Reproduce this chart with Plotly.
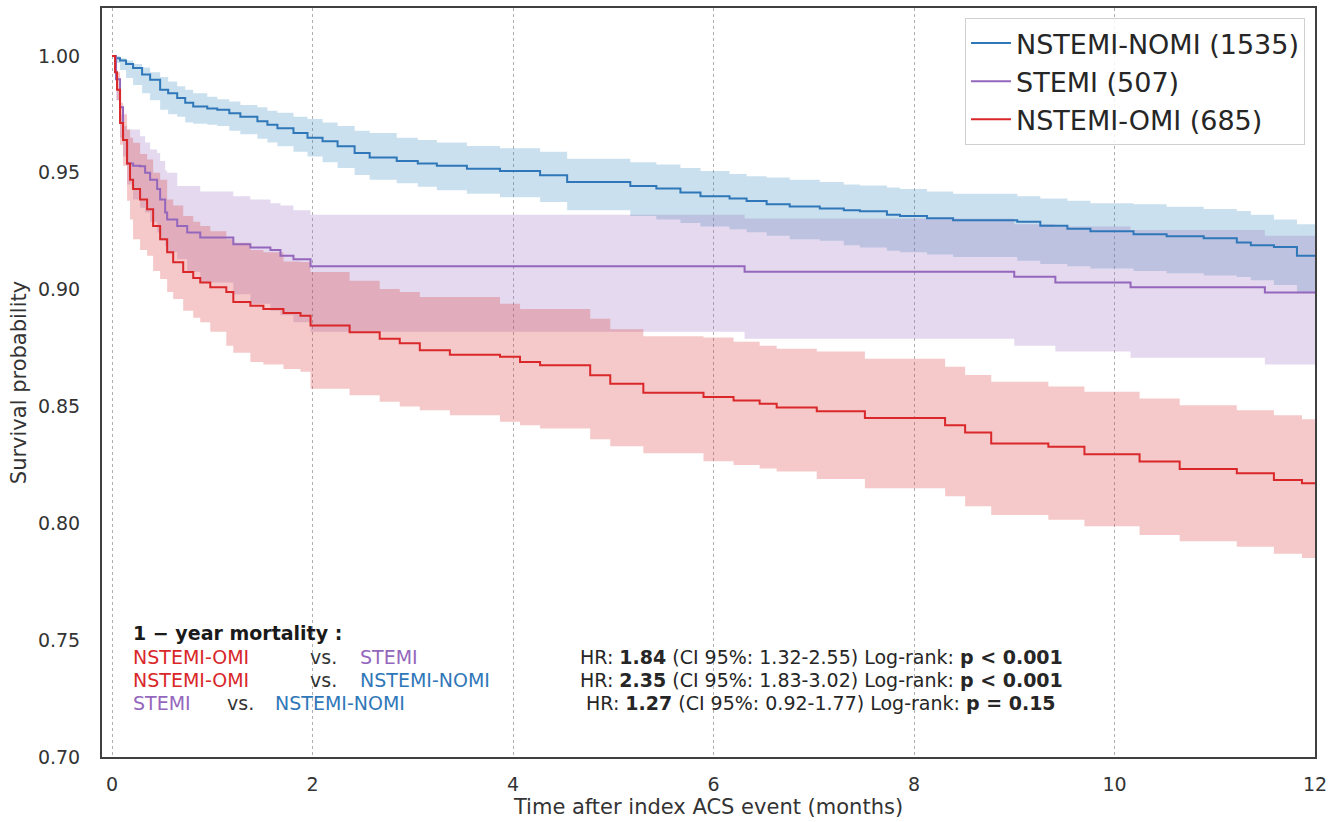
import plotly.graph_objects as go

# ---------------- data ----------------
# NSTEMI-NOMI (blue)
t_nomi = [0, 0.03, 0.08, 0.14, 0.21, 0.3, 0.38, 0.48, 0.56, 0.65, 0.73, 0.81, 0.95, 1.05, 1.17, 1.28,
          1.45, 1.55, 1.65, 1.81, 1.95, 2.1, 2.25, 2.42, 2.57, 2.84, 3.05, 3.24, 3.54, 3.87, 4.27, 4.54,
          5.17, 5.43, 5.67, 5.87, 6.16, 6.33, 6.53, 6.76, 7.06, 7.3, 7.46, 7.73, 7.86, 8.13, 8.39, 9.03,
          9.26, 9.53, 9.76, 10.19, 10.52, 10.89, 11.22, 11.36, 11.59, 11.82]
s_nomi = [1.0, 0.999, 0.998, 0.9965, 0.9948, 0.992, 0.9898, 0.9855, 0.984, 0.982, 0.980, 0.9784, 0.9775,
          0.977, 0.9755, 0.974, 0.972, 0.9705, 0.969, 0.967, 0.965, 0.9635, 0.9613, 0.9585, 0.9565, 0.955,
          0.954, 0.953, 0.9517, 0.9507, 0.9489, 0.946, 0.9443, 0.9433, 0.9416, 0.940, 0.939, 0.9379, 0.9365,
          0.9356, 0.9347, 0.934, 0.9335, 0.932, 0.9315, 0.9305, 0.9297, 0.929, 0.9273, 0.926, 0.925, 0.9237,
          0.9228, 0.922, 0.9202, 0.919, 0.9182, 0.9145]
hi_nomi = [1.0, 1.0, 0.999, 0.998, 0.9965, 0.995, 0.993, 0.991, 0.989, 0.987, 0.9855, 0.984, 0.9825, 0.9815,
           0.9805, 0.979, 0.978, 0.9765, 0.9757, 0.974, 0.973, 0.9715, 0.970, 0.968, 0.967, 0.965, 0.964,
           0.963, 0.9615, 0.9605, 0.959, 0.956, 0.9545, 0.9535, 0.952, 0.9507, 0.9495, 0.9485, 0.948, 0.947,
           0.946, 0.945, 0.9445, 0.9437, 0.943, 0.942, 0.941, 0.940, 0.939, 0.938, 0.937, 0.9365, 0.9355,
           0.9345, 0.9336, 0.932, 0.930, 0.928]
lo_nomi = [1.0, 0.997, 0.994, 0.9905, 0.9875, 0.984, 0.981, 0.977, 0.975, 0.974, 0.9715, 0.971, 0.9705, 0.970,
           0.968, 0.9665, 0.9645, 0.963, 0.9613, 0.959, 0.957, 0.9545, 0.952, 0.949, 0.947, 0.9455, 0.944,
           0.9425, 0.941, 0.9395, 0.9375, 0.934, 0.9315, 0.930, 0.9285, 0.927, 0.9258, 0.9245, 0.923, 0.9216,
           0.9209, 0.919, 0.918, 0.9166, 0.916, 0.915, 0.914, 0.9123, 0.911, 0.910, 0.909, 0.908, 0.907,
           0.906, 0.9054, 0.904, 0.902, 0.899]

# STEMI (purple)
t_stemi = [0, 0.04, 0.08, 0.11, 0.15, 0.21, 0.28, 0.33, 0.38, 0.45, 0.48, 0.53, 0.55, 0.65, 0.75, 0.88,
           1.21, 1.38, 1.58, 1.68, 1.81, 1.98, 6.31, 9.0, 9.41, 10.16, 11.5]
s_stemi = [1.0, 0.99, 0.978, 0.964, 0.954, 0.953, 0.9528, 0.950, 0.947, 0.943, 0.9386, 0.933, 0.930, 0.9272,
           0.9244, 0.9223, 0.9194, 0.918, 0.917, 0.9145, 0.913, 0.910, 0.9076, 0.9055, 0.903, 0.901, 0.8988]
hi_stemi = [1.0, 0.9855, 0.975, 0.970, 0.9685, 0.9685, 0.9656, 0.963, 0.960, 0.9585, 0.955, 0.951, 0.950,
            0.9443, 0.9443, 0.942, 0.940, 0.9386, 0.937, 0.936, 0.934, 0.932, 0.9304, 0.928, 0.927, 0.9255,
            0.923]
lo_stemi = [1.0, 0.981, 0.965, 0.957, 0.945, 0.9386, 0.935, 0.933, 0.929, 0.9244, 0.921, 0.9187, 0.916,
            0.913, 0.9075, 0.903, 0.898, 0.894, 0.891, 0.889, 0.886, 0.882, 0.879, 0.876, 0.8735, 0.8708,
            0.868]

# NSTEMI-OMI (red)
t_omi = [0, 0.03, 0.05, 0.08, 0.11, 0.15, 0.18, 0.21, 0.28, 0.35, 0.41, 0.48, 0.55, 0.61, 0.71, 0.81, 0.88,
         0.98, 1.14, 1.21, 1.38, 1.51, 1.71, 1.88, 1.98, 2.37, 2.67, 2.87, 3.07, 3.37, 3.87, 4.07, 4.27, 4.77,
         4.97, 5.30, 5.90, 6.20, 6.46, 6.63, 7.03, 7.51, 8.31, 8.51, 8.77, 9.34, 9.70, 10.25, 10.65, 11.22,
         11.59, 11.87]
s_omi = [1.0, 0.993, 0.9855, 0.9713, 0.964, 0.954, 0.947, 0.943, 0.9386, 0.9344, 0.9272, 0.9216, 0.916,
         0.9117, 0.9075, 0.905, 0.903, 0.901, 0.899, 0.8947, 0.8931, 0.8917, 0.890, 0.8888, 0.8846, 0.8818,
         0.879, 0.877, 0.874, 0.8721, 0.8713, 0.869, 0.8676, 0.8633, 0.8597, 0.8559, 0.854, 0.8526, 0.8512,
         0.8495, 0.848, 0.8451, 0.842, 0.8389, 0.8342, 0.8328, 0.8295, 0.8264, 0.8232, 0.8214, 0.8185, 0.8171]
hi_omi = [1.0, 0.996, 0.993, 0.98, 0.975, 0.9685, 0.965, 0.9628, 0.958, 0.9557, 0.950, 0.947, 0.9386, 0.936,
          0.9315, 0.929, 0.9272, 0.925, 0.9216, 0.920, 0.917, 0.916, 0.912, 0.9118, 0.9075, 0.9038, 0.9003,
          0.899, 0.8968, 0.8968, 0.8939, 0.8917, 0.8917, 0.8875, 0.883, 0.880, 0.8795, 0.8777, 0.876, 0.8747,
          0.8735, 0.8704, 0.867, 0.8635, 0.8606, 0.8585, 0.8563, 0.8534, 0.8505, 0.8484, 0.8462, 0.8445]
lo_omi = [1.0, 0.99, 0.981, 0.962, 0.953, 0.938, 0.930, 0.9216, 0.917, 0.9145, 0.908, 0.9045, 0.899, 0.896,
          0.891, 0.888, 0.886, 0.882, 0.876, 0.873, 0.869, 0.868, 0.866, 0.8648, 0.8576, 0.8548, 0.852, 0.850,
          0.8484, 0.8462, 0.8435, 0.8420, 0.8406, 0.836, 0.833, 0.830, 0.8265, 0.825, 0.8235, 0.8222, 0.819,
          0.815, 0.8116, 0.8073, 0.8036, 0.8015, 0.7987, 0.795, 0.7923, 0.790, 0.787, 0.7852]

T_END = 12.0
series_names = ["NSTEMI-NOMI (1535)", "STEMI (507)", "NSTEMI-OMI (685)"]
x_ticks = [0, 2, 4, 6, 8, 10, 12]
y_ticks = [0.70, 0.75, 0.80, 0.85, 0.90, 0.95, 1.00]

hr_lines = [
    "HR: <b>1.84</b> (CI 95%: 1.32-2.55) Log-rank: <b>p &lt; 0.001</b>",
    "HR: <b>2.35</b> (CI 95%: 1.83-3.02) Log-rank: <b>p &lt; 0.001</b>",
    "HR: <b>1.27</b> (CI 95%: 0.92-1.77) Log-rank: <b>p = 0.15</b>",
]

# ---------------- styling ----------------
C_BLUE = "#2f77b8"
C_PURPLE = "#9467bd"
C_RED = "#d9272a"
F_BLUE = "rgba(31,119,180,0.23)"
F_PURPLE = "rgba(148,103,189,0.25)"
F_RED = "rgba(214,39,40,0.25)"
FONT = "DejaVu Sans"
TXT = "#333333"

FIG_W, FIG_H = 1332, 822
M_L, M_R, M_T, M_B = 102, 17, 8, 65


def ext(t, v):
    return list(t) + [T_END], list(v) + [v[-1]]


groups = [
    (t_nomi, s_nomi, lo_nomi, hi_nomi, C_BLUE, F_BLUE, series_names[0]),
    (t_stemi, s_stemi, lo_stemi, hi_stemi, C_PURPLE, F_PURPLE, series_names[1]),
    (t_omi, s_omi, lo_omi, hi_omi, C_RED, F_RED, series_names[2]),
]

fig = go.Figure()

# confidence bands
for t, s, lo, hi, c, fc, name in groups:
    tx, lox = ext(t, lo)
    _, hix = ext(t, hi)
    fig.add_trace(go.Scatter(x=tx, y=lox, mode="lines", line=dict(width=0, shape="hv", color=fc),
                             showlegend=False, hoverinfo="skip"))
    fig.add_trace(go.Scatter(x=tx, y=hix, mode="lines", line=dict(width=0, shape="hv", color=fc),
                             fill="tonexty", fillcolor=fc, showlegend=False, hoverinfo="skip"))

# survival curves
for t, s, lo, hi, c, fc, name in groups:
    tx, sx = ext(t, s)
    fig.add_trace(go.Scatter(x=tx, y=sx, mode="lines", name=name,
                             line=dict(width=2, shape="hv", color=c)))

# ---------------- annotations (positions given in window pixels) ----------------
PL = M_L
PW = FIG_W - M_L - M_R
PT = M_T
PH = FIG_H - M_T - M_B


def px(x):
    return (x - PL) / PW


def py(y):
    return (PT + PH - y) / PH


ann = []
ann.append(dict(x=px(131), y=py(633), text="<b>1 − year mortality :</b>", font=dict(size=19, color="#1a1a1a")))
row_y = [657, 680, 703]
rows = [
    [(131, "NSTEMI-OMI", C_RED), (308, "vs.", TXT), (358, "STEMI", C_PURPLE)],
    [(131, "NSTEMI-OMI", C_RED), (308, "vs.", TXT), (358, "NSTEMI-NOMI", C_BLUE)],
    [(131, "STEMI", C_PURPLE), (225, "vs.", TXT), (273, "NSTEMI-NOMI", C_BLUE)],
]
for yy, row in zip(row_y, rows):
    for xx, txt, col in row:
        ann.append(dict(x=px(xx), y=py(yy), text=txt, font=dict(size=19, color=col)))
for a in ann:
    a.update(xref="paper", yref="paper", xanchor="left", yanchor="middle", showarrow=False)
for yy, txt in zip(row_y, hr_lines):
    ann.append(dict(x=px(821), y=py(yy), text=txt, xref="paper", yref="paper", xanchor="center",
                    yanchor="middle", showarrow=False, font=dict(size=19, color="#262626")))

fig.update_layout(
    width=FIG_W, height=FIG_H,
    margin=dict(l=M_L, r=M_R, t=M_T, b=M_B, autoexpand=False),
    paper_bgcolor="white", plot_bgcolor="white",
    font=dict(family=FONT, color=TXT, size=19),
    annotations=ann,
    legend=dict(x=px(1305), y=py(18), xanchor="right", yanchor="top", traceorder="normal",
                bgcolor="rgba(255,255,255,0.85)", bordercolor="#d0d0d0", borderwidth=1,
                font=dict(size=27, color="#262626", family=FONT), tracegroupgap=0,
                itemwidth=40),
    showlegend=True,
)
fig.update_xaxes(range=[-0.1, 12], tickvals=x_ticks, ticktext=[str(v) for v in x_ticks],
                 showgrid=True, gridcolor="#b0b0b0", griddash="dot", gridwidth=1,
                 zeroline=False, showline=True, mirror=True, linecolor="#404040", linewidth=2,
                 ticks="outside", ticklen=9, tickcolor="rgba(0,0,0,0)",
                 tickfont=dict(size=19, color=TXT),
                 title=dict(text="Time after index ACS event (months)", font=dict(size=21, color=TXT),
                            standoff=4))
fig.update_yaxes(range=[0.70, 1.0205], tickvals=y_ticks, tickformat=".2f",
                 showgrid=False, zeroline=False, showline=True, mirror=True, linecolor="#404040",
                 linewidth=2, ticks="outside", ticklen=16, tickcolor="rgba(0,0,0,0)",
                 tickfont=dict(size=19, color=TXT),
                 title=dict(text="Survival probability", font=dict(size=21, color=TXT), standoff=6))

# remove the default page margin so the figure sits at the window's top-left corner
fig.write_html("out.html",
               config={"displayModeBar": False},
               post_script="document.body.style.margin='0';"
                           "document.documentElement.style.overflow='hidden';")
